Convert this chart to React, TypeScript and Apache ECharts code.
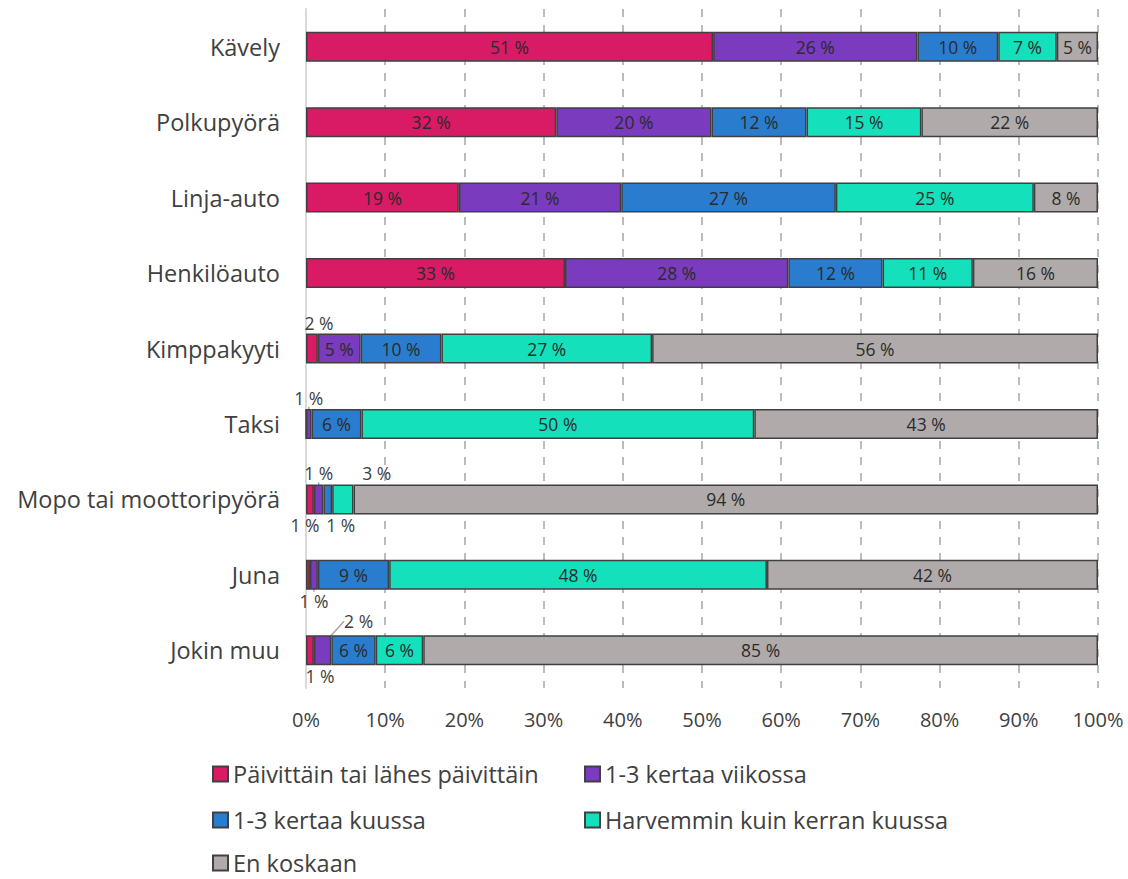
import React, { useEffect, useRef } from 'react';
import * as echarts from 'echarts';

const categories = [
  'Kävely',
  'Polkupyörä',
  'Linja-auto',
  'Henkilöauto',
  'Kimppakyyti',
  'Taksi',
  'Mopo tai moottoripyörä',
  'Juna',
  'Jokin muu',
];

const seriesNames = [
  'Päivittäin tai lähes päivittäin',
  '1-3 kertaa viikossa',
  '1-3 kertaa kuussa',
  'Harvemmin kuin kerran kuussa',
  'En koskaan',
];

const daily = [51.4, 31.6, 19.3, 32.7, 1.5, 0, 1.0, 0.5, 1.0];
const weekly = [25.8, 19.6, 20.5, 28.2, 5.4, 0.7, 1.2, 1.0, 2.2];
const monthly = [10.2, 12.0, 27.1, 11.9, 10.2, 6.3, 1.1, 9.0, 5.6];
const rarely = [7.4, 14.5, 25.0, 11.4, 26.6, 49.6, 2.7, 47.7, 6.0];
const never = [5.2, 22.3, 8.1, 15.8, 56.3, 43.4, 94.0, 41.8, 85.2];

const xTicks = [0, 10, 20, 30, 40, 50, 60, 70, 80, 90, 100];

const colors = ['#D81B64', '#7A3BBE', '#2A7DCE', '#14E0BC', '#B0ABAA'];

const FONT = '"Open Sans"';

// label placement overrides for small segments: [seriesIndex][dataIndex]
const outsideLabels: Record<number, Record<number, any>> = {
  0: {
    4: { position: 'top', offset: [7, 0] },
    6: { position: 'bottom', offset: [-5, 0] },
    7: { show: false },
    8: { position: 'bottom', offset: [10, 0] },
  },
  1: {
    5: { position: 'top', offset: [12, 0] },
    6: { position: 'top', offset: [5, 0] },
    7: { position: 'bottom', offset: [12, 0] },
    8: { position: 'top' },
  },
  2: {
    6: { position: 'bottom', offset: [13, 0] },
  },
  3: {
    6: { position: 'top', offset: [34, 0] },
  },
};

const legendPos = [
  { left: 207, top: 757 },
  { left: 579, top: 757 },
  { left: 207, top: 803 },
  { left: 579, top: 803 },
  { left: 207, top: 846 },
];

export default function App() {
  const ref = useRef<HTMLDivElement>(null);

  useEffect(() => {
    if (!ref.current) return;
    const chart = echarts.init(ref.current, undefined, { renderer: 'svg' });
    const all = [daily, weekly, monthly, rarely, never];

    const series = all.map((vals, si) => ({
      name: seriesNames[si],
      type: 'bar',
      stack: 'total',
      barWidth: 30,
      itemStyle: {
        color: colors[si],
        borderColor: '#404040',
        borderWidth: 1.5,
      },
      label: {
        show: true,
        position: 'inside',
        fontFamily: FONT,
        fontSize: 17.5,
        color: '#2b2b2b',
        formatter: (p: any) => `${Math.round(p.value)} %`,
      },
      labelLine:
        si === 1
          ? { show: true, lineStyle: { color: '#a6a6a6', width: 1.5 }, length2: 0 }
          : undefined,
      labelLayout:
        si === 1
          ? (params: any) => (params.dataIndex === 8 ? { dx: 36, dy: -3 } : {})
          : undefined,
      data: vals.map((v, di) => {
        const o = outsideLabels[si] && outsideLabels[si][di];
        if (v === 0) return { value: v, label: { show: false } };
        if (!o) return v;
        return {
          value: v,
          label: { ...o, color: '#404040', distance: 2 },
          ...(si === 1 && di === 8 ? { labelLine: { show: true } } : {}),
        };
      }),
    }));

    const legends = seriesNames.map((n, i) => ({
      data: [n],
      left: legendPos[i].left,
      top: legendPos[i].top,
      orient: 'horizontal',
      icon: 'rect',
      itemWidth: 15,
      itemHeight: 15,
      itemGap: 6,
      selectedMode: false,
      textStyle: {
        fontFamily: FONT,
        fontSize: 23.5,
        color: '#404040',
        padding: [0, 0, 0, 0],
      },
    }));

    chart.setOption({
      animation: false,
      textStyle: { fontFamily: FONT },
      legend: legends,
      grid: {
        left: 306,
        right: 30,
        top: 9,
        height: 679,
        containLabel: false,
      },
      xAxis: {
        type: 'value',
        min: 0,
        max: 100,
        interval: 10,
        axisLine: { show: false },
        axisTick: { show: false },
        axisLabel: {
          fontFamily: FONT,
          fontSize: 20,
          color: '#404040',
          margin: 21,
          formatter: (v: number) => (xTicks.includes(v) ? `${v}%` : ''),
        },
        splitLine: {
          show: true,
          lineStyle: { color: '#a6a6a6', width: 1.5, type: [8, 8] },
        },
      },
      yAxis: {
        type: 'category',
        data: categories,
        inverse: true,
        axisLine: { show: true, lineStyle: { color: '#d9d9d9', width: 2 } },
        axisTick: { show: false },
        axisLabel: {
          fontFamily: FONT,
          fontSize: 23.5,
          color: '#404040',
          margin: 26,
        },
      },
      series,
    });

    return () => chart.dispose();
  }, []);

  return (
    <div
      ref={ref}
      style={{ position: 'absolute', left: 0, top: 0, width: 1128, height: 879 }}
    />
  );
}
